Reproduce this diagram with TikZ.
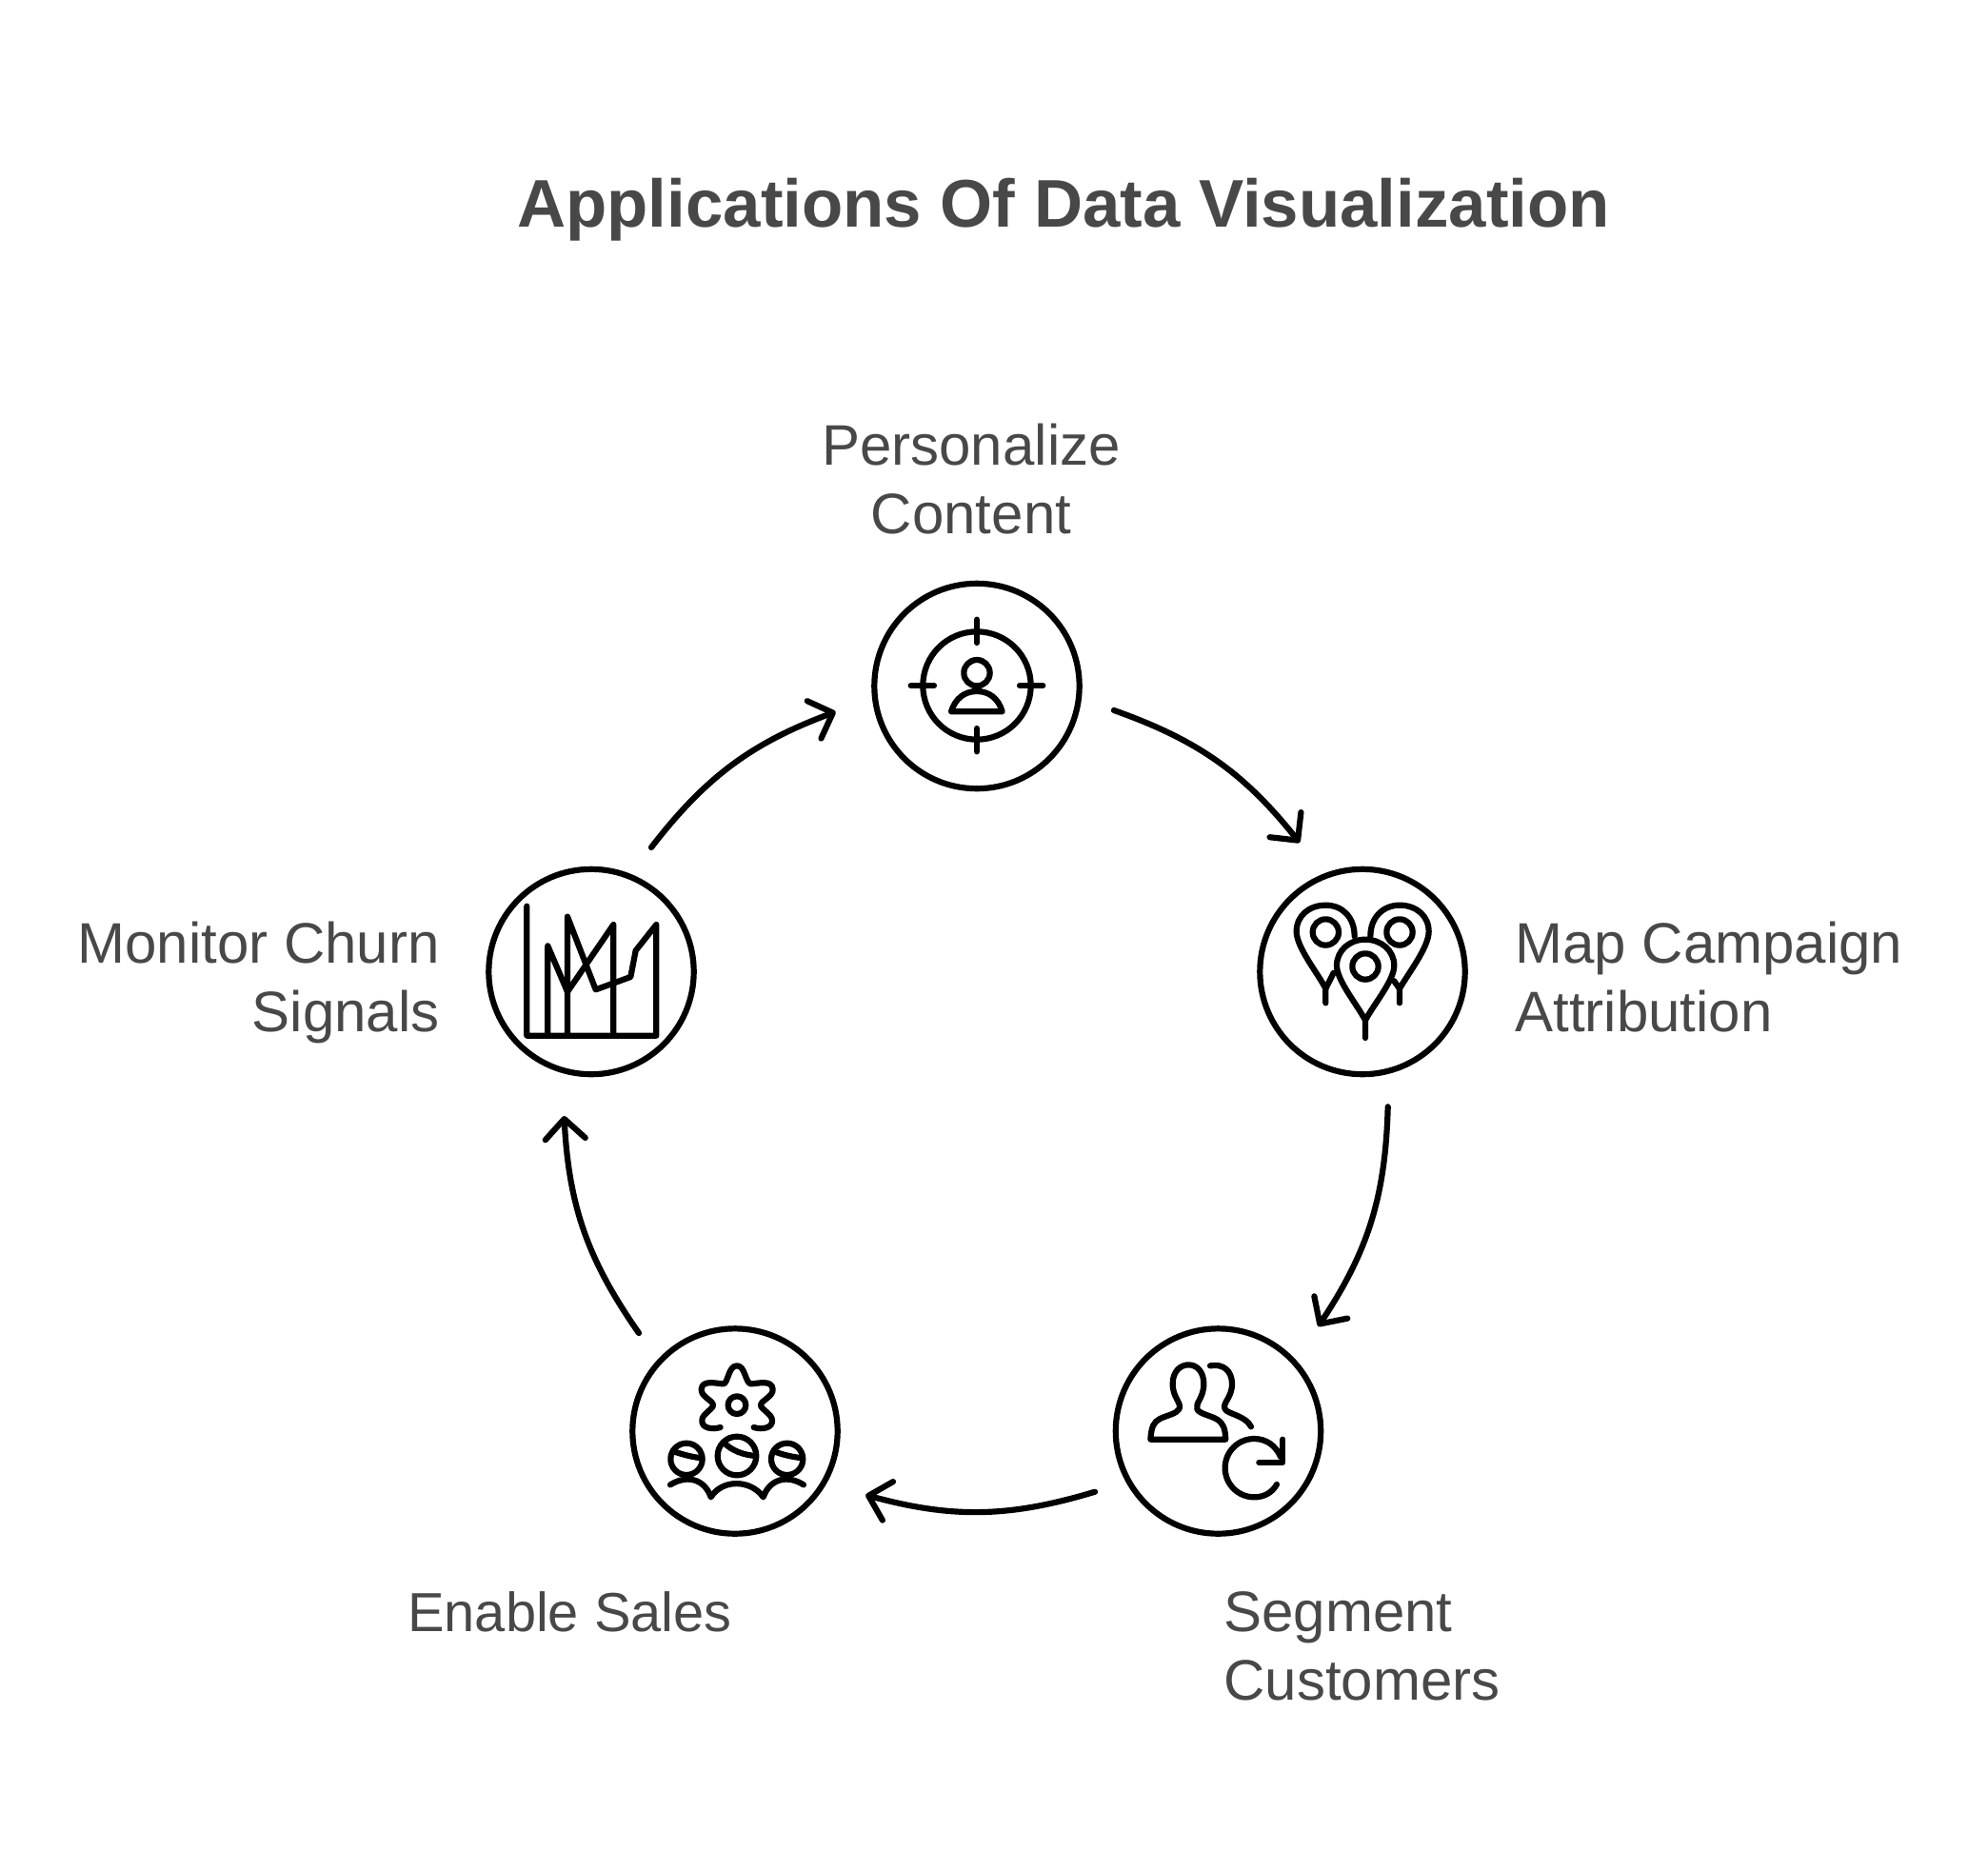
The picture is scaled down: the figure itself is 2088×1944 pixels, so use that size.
\documentclass[tikz,border=0pt]{standalone}
\usepackage{fontspec}
\setmainfont{Liberation Sans}
\usetikzlibrary{arrows.meta}
\definecolor{txt}{HTML}{484848}
\tikzset{
  stepcircle/.style={circle,draw=black,line width=3.1pt,minimum size=215.4*.5pt,inner sep=0pt,fill=white},
  conn/.style={line width=3.1pt,line cap=round,line join=round,-{Straight Barb[length=10.5pt,width=21pt,line width=3.1pt,round]}},
  lab/.style={text=txt,font=\fontsize{30}{36}\selectfont,inner sep=0pt},
  ttl/.style={text=txt,font=\fontsize{35.4}{44}\selectfont\bfseries,inner sep=0pt},
  ico/.style={line width=3.1pt,line cap=round,line join=round},
  zm/.style={x=0.5pt/3,y=-0.5pt/3},
}
\begin{document}
\begin{tikzpicture}[x=0.5pt,y=-0.5pt]
\useasboundingbox (0,0) rectangle (2088,1944);
\fill[white] (0,0) rectangle (2088,1944);
\node[ttl,anchor=base] (title) at (1117,238) {Applications Of Data Visualization};
\node[stepcircle] (n1) at (1026,720.5) {};
\node[stepcircle] (n2) at (1431,1020.5) {};
\node[stepcircle] (n3) at (1279.5,1503) {};
\node[stepcircle] (n4) at (772,1503) {};
\node[stepcircle] (n5) at (621,1020.5) {};
\node[lab,anchor=base,align=center] (l1) at (1020,560) {Personalize\\Content};
\node[lab,anchor=base west,align=left] (l2) at (1591,1083) {Map Campaign\\Attribution};
\node[lab,anchor=base west,align=left] (l3) at (1285,1785) {Segment\\Customers};
\node[lab,anchor=base,font=\fontsize{28.9}{36}\selectfont] (l4) at (598.5,1713) {Enable Sales};
\node[lab,anchor=base east,align=right] (l5) at (462,1083) {Monitor Churn\\Signals};
\draw[conn] ([shift={(144,25.5)}]n1.center) to[bend left=16] ([shift={(-66,-135.5)}]n2.center);
\draw[conn] ([shift={(26.7,141.8)}]n2.center) to[bend left=16] ([shift={(105,-110)}]n3.center);
\draw[conn] ([shift={(-129.5,63.7)}]n3.center) to[bend left=16] ([shift={(137.2,67)}]n4.center);
\draw[conn] ([shift={(-101,-103)}]n4.center) to[bend left=16] ([shift={(-28.5,151.5)}]n5.center);
\draw[conn] ([shift={(63,-130.5)}]n5.center) to[bend left=16] ([shift={(-148.3,27)}]n1.center);
% icon 1
\begin{scope}[shift={(900,600)},zm,ico]
\draw (378,360) circle[radius=170*0.5pt/3];
\draw (378,152)--(378,225) (378,495)--(378,568) (170,360)--(243,360) (513,360)--(586,360);
\draw (378,320) circle[radius=41*0.5pt/3];
\draw (297,442) .. controls (310,400) and (340,378) .. (378,378) .. controls (416,378) and (446,400) .. (458,442) -- cycle;
\end{scope}
% icon 2
\begin{scope}[shift={(1310,900)},zm,ico]
\draw (247,237) circle[radius=41*0.5pt/3] (480,237) circle[radius=41*0.5pt/3] (372,345) circle[radius=41*0.5pt/3];
\draw (247,460) -- (247,415) .. controls (225,370) and (155,285) .. (155,235) .. controls (155,185) and (195,152) .. (247,152) .. controls (300,152) and (338,190) .. (338,250);
\draw (247,415) -- (272,365);
\draw (388,250) .. controls (388,190) and (428,152) .. (480,152) .. controls (532,152) and (572,185) .. (572,235) .. controls (572,285) and (505,370) .. (480,415) -- (480,460);
\draw (480,415) -- (462,390);
\draw (372,570) -- (372,515) .. controls (350,470) and (282,390) .. (282,342) .. controls (282,295) and (322,260) .. (372,260) .. controls (422,260) and (463,295) .. (463,342) .. controls (463,390) and (394,470) .. (372,515);
\end{scope}
% icon 3
\begin{scope}[shift={(1160,1385)},zm,ico]
\draw (145,380) .. controls (148,340) and (155,325) .. (175,315) .. controls (200,303) and (225,300) .. (235,285) .. controls (245,265) and (215,250) .. (215,205) .. controls (215,165) and (240,145) .. (265,145) .. controls (290,145) and (313,165) .. (313,205) .. controls (313,250) and (285,265) .. (292,285) .. controls (300,300) and (335,305) .. (355,317) .. controls (375,330) and (380,345) .. (382,380) -- cycle;
\draw (333,148) .. controls (375,140) and (402,165) .. (402,205) .. controls (402,250) and (370,265) .. (380,285) .. controls (388,300) and (445,305) .. (462,340);
\draw (543,522) .. controls (527,550) and (500,562) .. (472,562) .. controls (421,562) and (380,521) .. (380,470) .. controls (380,419) and (421,378) .. (472,378) .. controls (510,378) and (540,400) .. (555,435);
\draw (562,380)--(562,453)--(487,453);
\end{scope}
% icon 4
\begin{scope}[shift={(650,1385)},zm,ico]
\draw (372,272) circle[radius=28*0.5pt/3];
\draw (320,342) .. controls (295,350) and (260,345) .. (262,320) .. controls (262,300) and (297,285) .. (297,272) .. controls (297,258) and (258,245) .. (260,222) .. controls (262,190) and (310,205) .. (330,205) .. controls (345,200) and (345,148) .. (372,148) .. controls (398,148) and (398,200) .. (415,205) .. controls (435,205) and (483,190) .. (485,222) .. controls (487,245) and (447,258) .. (447,272) .. controls (447,285) and (483,300) .. (483,320) .. controls (485,345) and (450,350) .. (425,342);
\draw (372,432) circle[radius=61*0.5pt/3] (213,442) circle[radius=50*0.5pt/3] (530,442) circle[radius=50*0.5pt/3];
\draw (333,392) .. controls (355,415) and (395,430) .. (432,432);
\draw (172,418) .. controls (195,425) and (225,435) .. (255,438);
\draw (490,418) .. controls (515,428) and (545,435) .. (572,438);
\draw (162,523) .. controls (215,490) and (270,505) .. (290,562) .. controls (325,505) and (415,505) .. (455,562) .. controls (475,505) and (530,490) .. (582,523);
\end{scope}
% icon 5
\begin{scope}[shift={(500,900)},zm,ico]
\draw (160,155)--(160,563)--(568,563)--(568,213)--(503,295)--(487,378)--(377,418)--(288,188)--(288,563);
\draw (226,563)--(226,280)--(288,425)--(433,213)--(433,563);
\end{scope}
\end{tikzpicture}
\end{document}
